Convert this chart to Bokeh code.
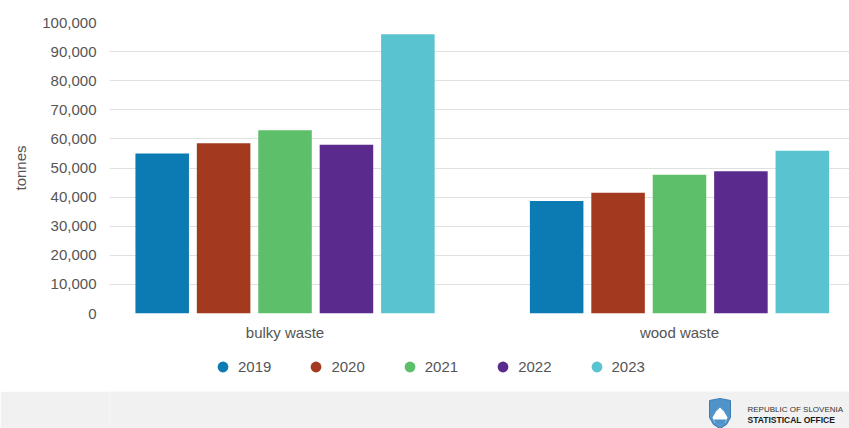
from bokeh.plotting import figure
from bokeh.models import (ColumnDataSource, Range1d, FixedTicker, NumeralTickFormatter,
                          Legend, LegendItem)
from bokeh.transform import dodge
from bokeh.layouts import column
from bokeh.embed import file_html
from bokeh.resources import INLINE
from bokeh.core.properties import value

# ---- data ----
categories = ["bulky waste", "wood waste"]
years = ["2019", "2020", "2021", "2022", "2023"]
v2019 = [55000, 38700]
v2020 = [58500, 41500]
v2021 = [63000, 47700]
v2022 = [58000, 48900]
v2023 = [96000, 55900]
y_ticks = [0, 10000, 20000, 30000, 40000, 50000, 60000, 70000, 80000, 90000, 100000]
y_label = "tonnes"

series = [v2019, v2020, v2021, v2022, v2023]
colors = ["#0c7bb3", "#a33a1f", "#5dbf69", "#5a2a8c", "#5ac3d0"]

FONT = "Liberation Sans"
TXT = "#555555"
BAND = "#f1f1f1"

data = {"idx": list(range(len(categories)))}
for y, s in zip(years, series):
    data[y] = s
src = ColumnDataSource(data)

p = figure(frame_width=740, frame_height=291, output_backend="svg", toolbar_location=None,
           x_range=Range1d(-0.445, 1.431), y_range=Range1d(0, 100000),
           min_border_left=109, min_border_right=0, min_border_top=22, min_border_bottom=27,
           outline_line_color=None, background_fill_color="white", border_fill_color="white")

step = 0.1557
width = 0.1357
for i, (y, c) in enumerate(zip(years, colors)):
    p.vbar(x=dodge("idx", (i - 2) * step, range=p.x_range), top=y, width=width,
           source=src, fill_color=c, line_color=None)

# axes
p.yaxis.ticker = FixedTicker(ticks=y_ticks)
p.yaxis.formatter = NumeralTickFormatter(format="0,0")
p.yaxis.axis_line_color = None
p.yaxis.major_tick_line_color = None
p.yaxis.minor_tick_line_color = None
p.yaxis.major_label_standoff = 7
p.yaxis.major_label_text_font = FONT
p.yaxis.major_label_text_font_size = "15px"
p.yaxis.major_label_text_color = TXT
p.yaxis.axis_label = y_label
p.yaxis.axis_label_text_font = FONT
p.yaxis.axis_label_text_font_size = "15px"
p.yaxis.axis_label_text_font_style = "normal"
p.yaxis.axis_label_text_color = TXT
p.yaxis.axis_label_standoff = 10

p.xaxis.ticker = FixedTicker(ticks=data["idx"])
p.xaxis.major_label_overrides = {i: c for i, c in enumerate(categories)}
p.xaxis.axis_line_color = None
p.xaxis.major_tick_line_color = None
p.xaxis.minor_tick_line_color = None
p.xaxis.major_label_standoff = 4
p.xaxis.major_label_text_font = FONT
p.xaxis.major_label_text_font_size = "15px"
p.xaxis.major_label_text_color = TXT

p.xgrid.grid_line_color = None
p.ygrid.grid_line_color = "#e0e0e0"
p.ygrid.grid_line_width = 1

# ---- legend row ----
lg = figure(frame_width=740, frame_height=48, output_backend="svg", toolbar_location=None,
            x_range=Range1d(0, 1), y_range=Range1d(0, 1),
            min_border_left=109, min_border_right=0, min_border_top=0, min_border_bottom=0,
            outline_line_color=None, background_fill_color="white", border_fill_color="white")
lg.axis.visible = False
lg.grid.visible = False
items = []
for y, c in zip(years, colors):
    r = lg.scatter(x=[-5.0], y=[-5.0], size=10, marker="circle", fill_color=c, line_color=None)
    items.append(LegendItem(label=y, renderers=[r]))
legend = Legend(items=items, orientation="horizontal", location=(100, 11.5),
                glyph_width=27, glyph_height=27, label_standoff=2, spacing=31,
                padding=0, margin=0, border_line_color=None, background_fill_alpha=0,
                label_text_font=FONT, label_text_font_size="15px", label_text_color=TXT,
                label_height=15, click_policy="none")
lg.add_layout(legend, "center")

# ---- footer band ----
f = figure(frame_width=740, frame_height=40, output_backend="svg", toolbar_location=None,
           x_range=Range1d(109, 849), y_range=Range1d(0, 40),
           min_border_left=109, min_border_right=0, min_border_top=0, min_border_bottom=0,
           outline_line_color=None,
           background_fill_color=BAND, border_fill_color=BAND)
f.axis.visible = False
f.grid.visible = False
# emblem
f.patch(x=[709, 719.5, 730, 730, 726, 719.5, 713, 709],
        y=[31, 33, 31, 14, 7, 3, 7, 14], fill_color="#4f93c9", line_color="#3b7db5")
f.patch(x=[712, 715.5, 719.5, 723.5, 727, 725, 719.5, 714],
        y=[14, 20, 24, 20, 14, 9, 6, 9], fill_color="white", line_color=None)
f.patch(x=[713, 726, 724, 719.5, 715], y=[12, 12, 8, 6, 8], fill_color="#4f93c9", line_color=None)
f.text(x=[747], y=[22], text=["REPUBLIC OF SLOVENIA"], text_font=value(FONT),
       text_font_size="8px", text_color="#333333", text_baseline="middle")
f.text(x=[747], y=[11.5], text=["STATISTICAL OFFICE"], text_font=value(FONT),
       text_font_size="8.5px", text_font_style="bold", text_color="#1a1a1a", text_baseline="middle")

layout = column(p, lg, f, spacing=0)
open("out.html", "w").write(file_html(layout, INLINE))
